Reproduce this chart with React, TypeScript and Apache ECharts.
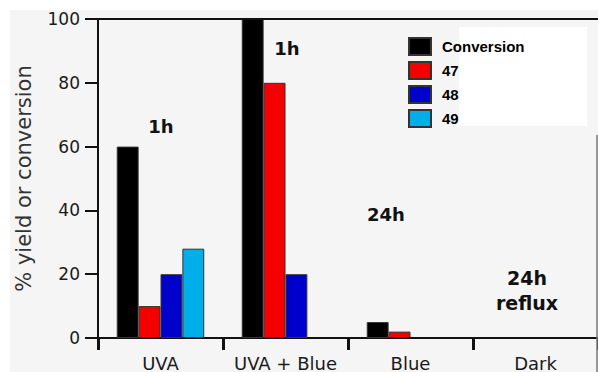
import React, { useEffect, useRef } from "react";
import * as echarts from "echarts";

const categories = ["UVA", "UVA + Blue", "Blue", "Dark"];
const seriesNames = ["Conversion", "47", "48", "49"];
const conversion = [60, 100, 5, 0];
const s47 = [10, 80, 2, 0];
const s48 = [20, 20, 0, 0];
const s49 = [28, 0, 0, 0];
const colors = ["#000000", "#f50000", "#0000cc", "#00aeea"];
const yTicks = [0, 20, 40, 60, 80, 100];

export default function App() {
  const ref = useRef<HTMLDivElement>(null);
  useEffect(() => {
    if (!ref.current) return;
    const chart = echarts.init(ref.current, null, { renderer: "svg" });
    const data = [conversion, s47, s48, s49];
    const mkData = (arr: number[]) => arr.map((v) => (v === 0 ? null : v));
    chart.setOption({
      animation: false,
      backgroundColor: "#ffffff",
      textStyle: { fontFamily: "DejaVu Sans" },
      grid: { left: 98, top: 19, width: 500, height: 321, containLabel: false },
      legend: {
        orient: "vertical",
        left: 403,
        top: 32,
        icon: "rect",
        itemWidth: 22,
        itemHeight: 17,
        itemGap: 5,
        data: seriesNames,
        textStyle: {
          fontFamily: "Liberation Sans",
          fontWeight: "bold",
          fontSize: 15,
          lineHeight: 17,
          color: "#000",
          padding: [0, 0, 0, 6],
        },
        z: 10,
      },
      xAxis: {
        type: "category",
        data: categories,
        axisLine: { show: true, lineStyle: { color: "#111", width: 2 } },
        axisTick: { show: true, interval: 0, length: 12, lineStyle: { color: "#111", width: 3 } },
        axisLabel: { interval: 0, fontSize: 18, color: "#1a1a1a", margin: 16, fontFamily: "DejaVu Sans" },
        splitLine: { show: false },
      },
      yAxis: {
        type: "value",
        min: 0,
        max: 100,
        interval: 20,
        name: "% yield or conversion",
        nameLocation: "middle",
        nameRotate: 90,
        nameGap: 64,
        nameTextStyle: { fontSize: 21, color: "#333", fontFamily: "DejaVu Sans" },
        axisLine: { show: true, lineStyle: { color: "#111", width: 2 } },
        axisTick: { show: true, length: 13, lineStyle: { color: "#111", width: 2 } },
        axisLabel: {
          fontSize: 17,
          color: "#1a1a1a",
          margin: 18,
          fontFamily: "DejaVu Sans",
          formatter: (v: number) => (yTicks.includes(v) ? String(v) : ""),
        },
        splitLine: { show: false },
      },
      series: seriesNames.map((name, i) => ({
        name,
        type: "bar",
        data: mkData(data[i]),
        barGap: "0%",
        barCategoryGap: "30%",
        itemStyle: { color: colors[i], borderColor: "#333", borderWidth: 1 },
        z: 3,
      })),
      graphic: {
        elements: [
          {
            type: "rect",
            shape: { x: 10, y: 10, width: 588, height: 362 },
            style: { fill: "#f5f5f5" },
            z: -10,
            silent: true,
          },
          {
            type: "rect",
            shape: { x: 459, y: 27, width: 128, height: 99 },
            style: { fill: "#ffffff" },
            z: -5,
            silent: true,
          },
          {
            type: "line",
            shape: { x1: 85, y1: 19, x2: 598, y2: 19 },
            style: { stroke: "#111", lineWidth: 2 },
            z: 5,
          },
          {
            type: "line",
            shape: { x1: 597, y1: 135, x2: 597, y2: 372 },
            style: { stroke: "#777", lineWidth: 1.5 },
            z: 5,
          },
          {
            type: "text",
            x: 161,
            y: 126,
            style: { text: "1h", font: "bold 18px 'DejaVu Sans'", fill: "#111", align: "center", verticalAlign: "middle" },
            z: 6,
          },
          {
            type: "text",
            x: 287,
            y: 48,
            style: { text: "1h", font: "bold 18px 'DejaVu Sans'", fill: "#111", align: "center", verticalAlign: "middle" },
            z: 6,
          },
          {
            type: "text",
            x: 386,
            y: 214,
            style: { text: "24h", font: "bold 18px 'DejaVu Sans'", fill: "#111", align: "center", verticalAlign: "middle" },
            z: 6,
          },
          {
            type: "text",
            x: 527,
            y: 290,
            style: {
              text: "24h\nreflux",
              font: "bold 19px 'DejaVu Sans'",
              lineHeight: 25,
              fill: "#111",
              align: "center",
              verticalAlign: "middle",
            },
            z: 6,
          },
        ],
      },
    });
    return () => chart.dispose();
  }, []);
  return (
    <div
      ref={ref}
      style={{ position: "fixed", left: 0, top: 0, width: 598, height: 372 }}
    />
  );
}
